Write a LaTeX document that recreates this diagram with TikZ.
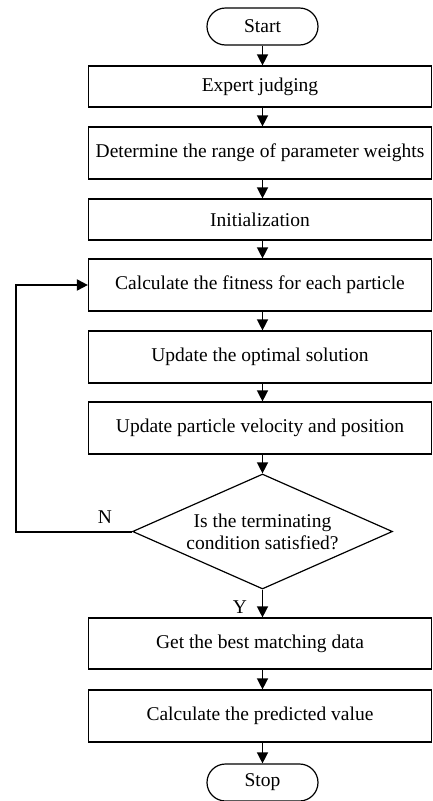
\documentclass[tikz,border=0pt]{standalone}
\usepackage{fontspec}
\setmainfont{Liberation Serif}
\usetikzlibrary{shapes.geometric,shapes.misc,arrows.meta}
\begin{document}
\begin{tikzpicture}[x=1pt,y=1pt,
  every node/.style={font=\fontsize{19.5}{22}\selectfont, inner sep=0pt},
  procbox/.style={draw, line width=1.2pt, minimum width=343pt},
  term/.style={draw, line width=1.2pt, rounded rectangle, minimum width=111pt, minimum height=37pt},
  decision/.style={draw, line width=1.2pt, diamond, aspect=2.26, minimum width=260pt, minimum height=115pt, align=center},
  arr/.style={line width=1.4pt, -{Triangle[width=11pt,length=11pt]}},
  fback/.style={line width=2pt, -{Triangle[width=11pt,length=11pt]}}
]
\useasboundingbox (0,0) rectangle (433,-801);
\node[term] (start) at (262.5,-26.5) {Start};
\node[procbox, minimum height=41pt] (b1) at (260,-86.5) {Expert judging};
\node[procbox, minimum height=52pt] (b2) at (260,-153) {Determine the range of parameter weights};
\node[procbox, minimum height=41pt] (b3) at (260,-219.5) {Initialization};
\node[procbox, minimum height=52pt] (b4) at (260,-285) {Calculate the fitness for each particle};
\node[procbox, minimum height=52pt] (b5) at (260,-357) {Update the optimal solution};
\node[procbox, minimum height=52pt] (b6) at (260,-428) {Update particle velocity and position};
\node[decision] (d) at (262.5,-531.5) {Is the terminating\\condition satisfied?};
\node[procbox, minimum height=51pt] (b7) at (260,-643.5) {Get the best matching data};
\node[procbox, minimum height=52pt] (b8) at (260,-716) {Calculate the predicted value};
\node[term] (stop) at (262.5,-782.5) {Stop};
\coordinate (loopx) at (16,0);
\node (nlab) at (105,-517) {N};
\node (ylab) at (240,-607) {Y};

\draw[arr] (start.south) -- (b1.north -| start);
\draw[arr] (b1.south -| start) -- (b2.north -| start);
\draw[arr] (b2.south -| start) -- (b3.north -| start);
\draw[arr] (b3.south -| start) -- (b4.north -| start);
\draw[arr] (b4.south -| start) -- (b5.north -| start);
\draw[arr] (b5.south -| start) -- (b6.north -| start);
\draw[arr] (b6.south -| start) -- (d.north);
\draw[arr] (d.south) -- (b7.north -| start);
\draw[arr] (b7.south -| start) -- (b8.north -| start);
\draw[arr] (b8.south -| start) -- (stop.north);
\draw[fback] (d.west) -- (d.west -| loopx) |- (b4.west);
\end{tikzpicture}
\end{document}
